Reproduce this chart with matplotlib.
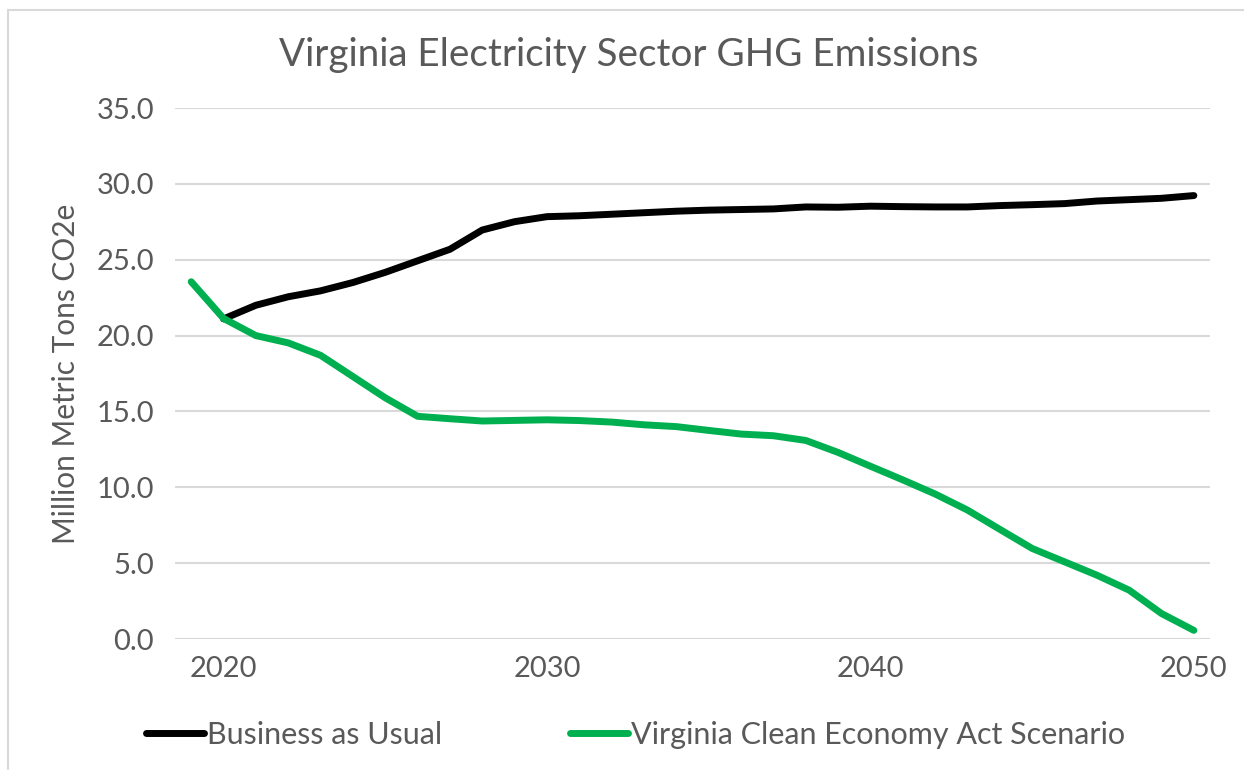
import matplotlib
matplotlib.use("Agg")
import matplotlib.pyplot as plt
from matplotlib.lines import Line2D

years = list(range(2019, 2051))

# Business as usual (no 2019 value shown)
bau = [None, 21.1, 22.0, 22.56, 22.95, 23.5, 24.17, 24.93, 25.69, 26.96, 27.51,
       27.84, 27.9, 28.0, 28.1, 28.2, 28.27, 28.31, 28.35, 28.48, 28.46,
       28.53, 28.5, 28.48, 28.48, 28.57, 28.63, 28.7, 28.87, 28.96, 29.05, 29.23]

# Virginia Clean Economy Act scenario
vcea = [23.55, 21.13, 20.0, 19.52, 18.7, 17.3, 15.9, 14.68, 14.52, 14.37, 14.41,
        14.45, 14.4, 14.3, 14.12, 14.0, 13.75, 13.51, 13.4, 13.09, 12.3,
        11.39, 10.49, 9.56, 8.5, 7.23, 5.97, 5.09, 4.21, 3.22, 1.68, 0.57]

y_ticks = [0, 5, 10, 15, 20, 25, 30, 35]
x_ticks = [2020, 2030, 2040, 2050]

title = "Virginia Electricity Sector GHG Emissions"
y_label = "Million Metric Tons CO2e"
names = ["Business as Usual", "Virginia Clean Economy Act Scenario"]

TEXT = "#595959"
GREEN = "#00B050"
LW = 5

plt.rcParams['font.family'] = ['Lato', 'DejaVu Sans']

fig = plt.figure(figsize=(12.44, 7.7), dpi=100)
ax = fig.add_axes([0.1407, 0.1701, 0.832, 0.6896])

bau_x = [y for y, v in zip(years, bau) if v is not None]
bau_y = [v for v in bau if v is not None]
ax.plot(bau_x, bau_y, color="black", lw=LW, solid_capstyle="round",
        solid_joinstyle="round", zorder=3)
ax.plot(years, vcea, color=GREEN, lw=LW, solid_capstyle="round",
        solid_joinstyle="round", zorder=4)

ax.set_xlim(2018.5, 2050.5)
ax.set_ylim(0, 35)
ax.set_yticks(y_ticks)
ax.set_yticklabels([f"{v:.1f}" for v in y_ticks])
ax.set_xticks(x_ticks)
ax.grid(axis="y", color="#D9D9D9", lw=1.5)
ax.set_axisbelow(True)
for s in ax.spines.values():
    s.set_visible(False)
ax.tick_params(length=0, labelsize=21, labelcolor=TEXT)
ax.tick_params(axis="y", pad=15)
ax.tick_params(axis="x", pad=12)
ax.set_ylabel(y_label, fontsize=21.5, color=TEXT, labelpad=12)

fig.text(0.5055, 0.928, title, ha="center", va="center", fontsize=27.8, color=TEXT)

handles = [Line2D([], [], color="black", lw=LW, solid_capstyle="round"),
           Line2D([], [], color=GREEN, lw=LW, solid_capstyle="round")]
leg = fig.legend(handles, names, loc="center", bbox_to_anchor=(0.511, 0.046),
                 ncol=2, frameon=False, fontsize=22, handlelength=1.9,
                 handletextpad=0.08, columnspacing=4.2)
for t in leg.get_texts():
    t.set_color(TEXT)

# chart area border (left and top edges visible)
fig.add_artist(Line2D([0.0068, 0.0068], [0, 0.987], color="#D9D9D9", lw=1.5))
fig.add_artist(Line2D([0.0068, 1], [0.987, 0.987], color="#D9D9D9", lw=1.5))

fig.savefig("out.png", dpi=100)
